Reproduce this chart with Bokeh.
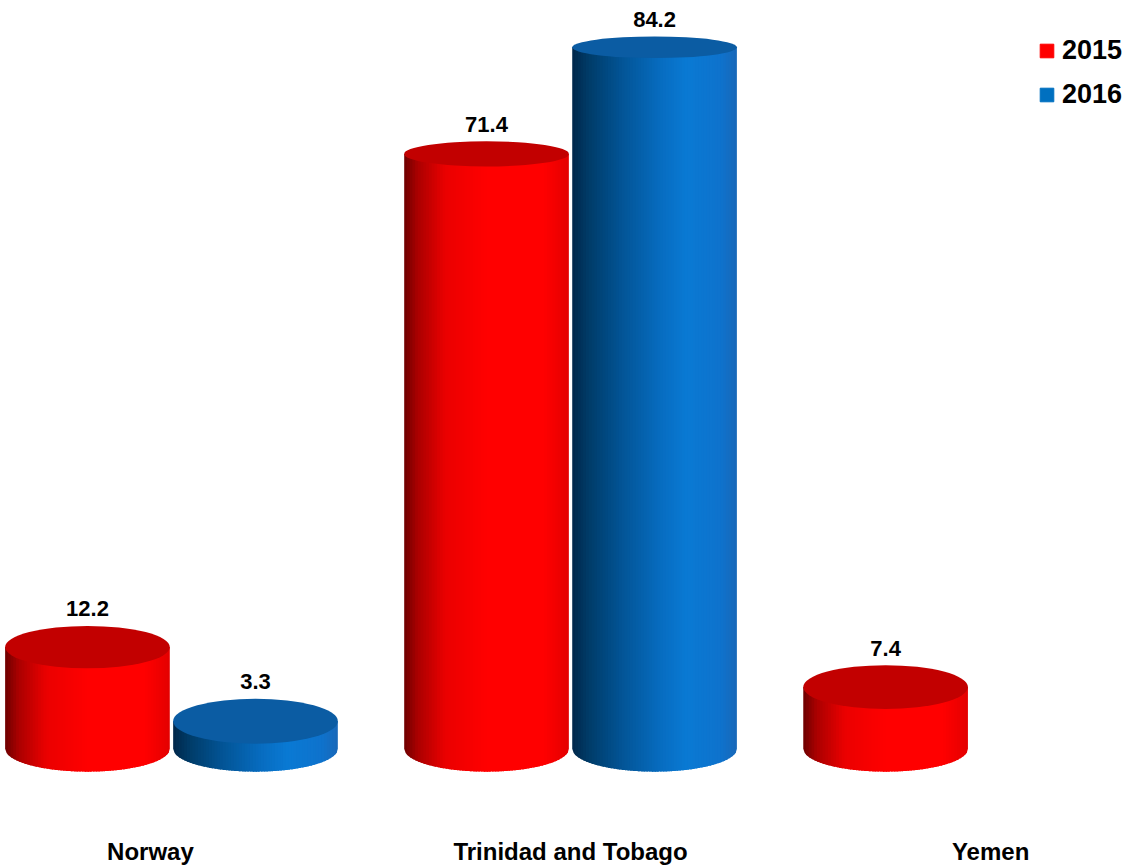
import numpy as np
from bokeh.plotting import figure
from bokeh.models import Range1d, FixedTicker, Legend, LegendItem, ColumnDataSource
from bokeh.core.properties import value
from bokeh.embed import file_html
from bokeh.resources import INLINE

categories = ["Norway", "Trinidad and Tobago", "Yemen"]
series_names = ["2015", "2016"]
values_2015 = [12.2, 71.4, 7.4]
values_2016 = [3.3, 84.2, None]

PX_PER_Y = 8.35          # screen pixels per value unit
FONT = "Liberation Sans"

p = figure(width=1130, height=867, output_backend="svg", toolbar_location=None,
           x_range=Range1d(-0.357, 2.333), y_range=Range1d(-9.22, 89.82),
           min_border_left=0, min_border_right=0, min_border_top=0, min_border_bottom=0)
p.outline_line_color = None
p.xgrid.visible = False
p.ygrid.visible = False
p.yaxis.visible = False
p.background_fill_color = "white"
p.border_fill_color = "white"

ax = p.xaxis[0]
ax.ticker = FixedTicker(ticks=list(range(len(categories))))
ax.major_label_overrides = {i: c for i, c in enumerate(categories)}
ax.axis_line_color = None
ax.major_tick_line_color = None
ax.minor_tick_line_color = None
ax.major_tick_out = 0
ax.major_tick_in = 0
ax.major_label_standoff = 12
ax.major_label_text_font = FONT
ax.major_label_text_font_style = "bold"
ax.major_label_text_font_size = "24px"
ax.major_label_text_color = "black"

# shading stops across cylinder width (t from 0 = left to 1 = right)
shade = {
    "2015": dict(t=[0, 0.08, 0.25, 0.5, 0.85, 1.0],
                 r=[110, 170, 235, 255, 255, 228], g=[0] * 6, b=[0] * 6,
                 cap="#c20000", legend="#ff0000"),
    "2016": dict(t=[0, 0.1, 0.3, 0.55, 0.7, 0.9, 1.0],
                 r=[0, 0, 3, 8, 10, 15, 25], g=[40, 60, 85, 110, 122, 115, 105],
                 b=[75, 105, 150, 195, 212, 205, 185],
                 cap="#0b5ca3", legend="#0070c0"),
}

RX = 0.196   # cylinder half width in x units
N = 60


def ry_px(v):
    return 23.0 - 0.145 * v


def ry_data(v):
    return ry_px(v) / PX_PER_Y


offsets = {"2015": -0.2, "2016": 0.2}
series_vals = {"2015": values_2015, "2016": values_2016}

label_x, label_y, label_t, label_off = [], [], [], []
for i, cat in enumerate(categories):
    for s in series_names:
        v = series_vals[s][i]
        if v is None:
            continue
        cx = i - 0.05 * (i - 1) + offsets[s]
        st = shade[s]
        ryb = ry_data(0)
        xs, ys, cols = [], [], []
        edges = np.linspace(cx - RX, cx + RX, N + 1)
        w = edges[1] - edges[0]
        for k in range(N):
            x0 = edges[k]
            x1 = min(edges[k + 1] + 0.6 * w, cx + RX)
            t = (k + 0.5) / N
            r = int(np.interp(t, st["t"], st["r"]))
            g = int(np.interp(t, st["t"], st["g"]))
            b = int(np.interp(t, st["t"], st["b"]))
            xm = np.linspace(x0, x1, 4)
            bot = -ryb * np.sqrt(np.clip(1 - ((xm - cx) / RX) ** 2, 0, 1))
            xs.append([x0, x1] + list(xm[::-1]))
            ys.append([v, v] + list(bot[::-1]))
            cols.append("#%02x%02x%02x" % (r, g, b))
        src = ColumnDataSource(dict(xs=xs, ys=ys, c=cols))
        p.patches("xs", "ys", source=src, fill_color="c", line_color=None)
        p.ellipse(x=[cx], y=[v], width=[2 * RX], height=[2 * ry_data(v)],
                  fill_color=st["cap"], line_color=None)
        label_x.append(cx)
        label_y.append(v)
        label_t.append(f"{v:.1f}")
        label_off.append(-(ry_px(v) + 17))

p.text(x=label_x, y=label_y, text=label_t, y_offset=label_off,
       text_font=value(FONT), text_font_style="bold", text_font_size="22px",
       text_align="center", text_baseline="middle", text_color="black")

# legend
leg_r = []
for s in series_names:
    r = p.quad(left=[np.nan], right=[np.nan], top=[np.nan], bottom=[np.nan],
               fill_color=shade[s]["legend"], line_color=shade[s]["legend"])
    leg_r.append(r)
legend = Legend(items=[LegendItem(label=s, renderers=[r]) for s, r in zip(series_names, leg_r)],
                location=(1038, 715), orientation="vertical",
                glyph_width=17, glyph_height=17, label_standoff=7, spacing=13,
                label_height=30, padding=0, margin=0,
                label_text_font=FONT, label_text_font_style="bold",
                label_text_font_size="27px", label_text_color="black",
                border_line_color=None, background_fill_alpha=0)
p.add_layout(legend, "center")

open("out.html", "w").write(file_html(p, INLINE))
